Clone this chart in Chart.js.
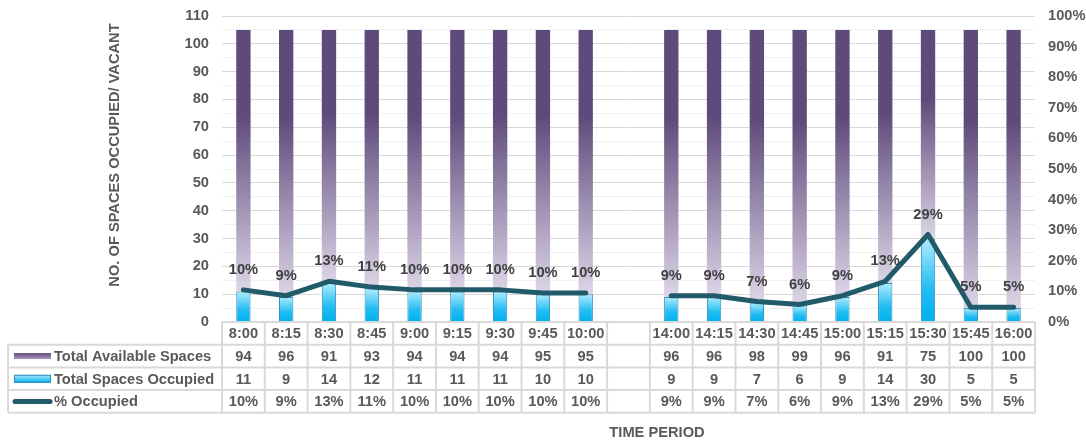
<!DOCTYPE html>
<html>
<head>
<meta charset="utf-8">
<script src="https://cdn.jsdelivr.net/npm/chart.js@4/dist/chart.umd.min.js"></script>
<style>
  body { margin: 0; background: #fff; }
  canvas { display: block; }
</style>
</head>
<body>
<canvas id="parking" width="1086" height="441"></canvas>
<script>
// time slots, '' is the empty column between morning and afternoon
const timeSlots = ['8:00', '8:15', '8:30', '8:45', '9:00', '9:15', '9:30', '9:45', '10:00', '',
    '14:00', '14:15', '14:30', '14:45', '15:00', '15:15', '15:30', '15:45', '16:00'];
const availableSpaces = [94, 96, 91, 93, 94, 94, 94, 95, 95, null, 96, 96, 98, 99, 96, 91, 75, 100, 100];
const occupiedSpaces = [11, 9, 14, 12, 11, 11, 11, 10, 10, null, 9, 9, 7, 6, 9, 14, 30, 5, 5];
// line position and the rounded labels printed on it
const occupiedPct = [10.5, 8.6, 13.3, 11.4, 10.5, 10.5, 10.5, 9.5, 9.5, null, 8.6, 8.6, 6.7, 5.7, 8.6, 13.3, 28.6, 4.8, 4.8];
const occupiedPctLabels = ['10%', '9%', '13%', '11%', '10%', '10%', '10%', '10%', '10%', '',
    '9%', '9%', '7%', '6%', '9%', '13%', '29%', '5%', '5%'];

const FONT = 'bold 14.67px "Liberation Sans", Arial, sans-serif';
const TEXT = '#595959';
const GRID = '#D9D9D9';
const PURPLE_DARK = '#5F4B7B';
const PURPLE_LIGHT = '#DDD5E7';
const BLUE_LIGHT = '#B0ECFF';
const BLUE = '#00B0F0';
const TEAL = '#215A69';

function purpleFill(c) {
    const { chart, dataIndex } = c;
    const y = chart.scales.y;
    if (c.type !== 'data' || !chart.chartArea || !y || occupiedSpaces[dataIndex] == null) return PURPLE_DARK;
    const top = y.getPixelForValue(occupiedSpaces[dataIndex] + availableSpaces[dataIndex]);
    const bottom = y.getPixelForValue(occupiedSpaces[dataIndex]);
    const g = chart.ctx.createLinearGradient(0, top, 0, bottom);
    g.addColorStop(0, PURPLE_DARK);
    g.addColorStop(0.33, PURPLE_DARK);
    g.addColorStop(1, PURPLE_LIGHT);
    return g;
}

function blueFill(c) {
    const { chart, dataIndex } = c;
    const y = chart.scales.y;
    if (c.type !== 'data' || !chart.chartArea || !y || occupiedSpaces[dataIndex] == null) return BLUE;
    const top = y.getPixelForValue(occupiedSpaces[dataIndex]);
    const bottom = y.getPixelForValue(0);
    const g = chart.ctx.createLinearGradient(0, top, 0, bottom);
    g.addColorStop(0, BLUE_LIGHT);
    g.addColorStop(0.6, '#22BCF2');
    g.addColorStop(1, BLUE);
    return g;
}

// percentage labels above the line
const pointLabels = {
    id: 'pointLabels',
    afterDatasetsDraw(chart) {
        const meta = chart.getDatasetMeta(2);
        const ctx = chart.ctx;
        ctx.save();
        ctx.font = FONT;
        ctx.fillStyle = '#404040';
        ctx.textAlign = 'center';
        ctx.textBaseline = 'middle';
        meta.data.forEach((pt, i) => {
            if (occupiedPct[i] == null) return;
            ctx.fillText(occupiedPctLabels[i], pt.x, pt.y - 20);
        });
        ctx.restore();
    },
};

// data table under the plot + axis titles
const dataTable = {
    id: 'dataTable',
    afterDraw(chart) {
        const { ctx, chartArea, scales: { x } } = chart;
        const n = timeSlots.length;
        const colW = (x.right - x.left) / n;
        const rowH = 22.7;
        const top = chartArea.bottom;
        const legendLeft = 8;
        const rows = [top, top + rowH, top + rowH * 2, top + rowH * 3, top + rowH * 4];

        ctx.save();
        ctx.strokeStyle = GRID;
        ctx.lineWidth = 2;
        ctx.beginPath();
        ctx.moveTo(x.left, rows[0]);
        ctx.lineTo(x.right, rows[0]);
        for (let r = 1; r < rows.length; r++) {
            ctx.moveTo(legendLeft, rows[r]);
            ctx.lineTo(x.right, rows[r]);
        }
        ctx.moveTo(legendLeft, rows[1]);
        ctx.lineTo(legendLeft, rows[4]);
        for (let i = 0; i <= n; i++) {
            const cx = x.left + colW * i;
            ctx.moveTo(cx, rows[0]);
            ctx.lineTo(cx, rows[4]);
        }
        ctx.stroke();

        ctx.font = FONT;
        ctx.fillStyle = TEXT;
        ctx.textAlign = 'center';
        ctx.textBaseline = 'middle';
        const rowValues = [
            timeSlots,
            availableSpaces.map((v) => v == null ? '' : String(v)),
            occupiedSpaces.map((v) => v == null ? '' : String(v)),
            occupiedPctLabels,
        ];
        rowValues.forEach((vals, r) => {
            const cy = rows[r] + rowH / 2 + 1;
            vals.forEach((v, i) => ctx.fillText(v, x.getPixelForValue(i), cy));
        });

        // legend column
        const names = ['Total Available Spaces', 'Total Spaces Occupied', '% Occupied'];
        ctx.textAlign = 'left';
        names.forEach((name, r) => ctx.fillText(name, 54, rows[r + 1] + rowH / 2 + 1));

        let cy = rows[1] + rowH / 2;
        let g = ctx.createLinearGradient(0, cy - 3, 0, cy + 3);
        g.addColorStop(0, PURPLE_DARK);
        g.addColorStop(1, '#A898BE');
        ctx.fillStyle = g;
        ctx.fillRect(14, cy - 3, 37, 6);

        cy = rows[2] + rowH / 2;
        g = ctx.createLinearGradient(0, cy - 4, 0, cy + 4);
        g.addColorStop(0, BLUE_LIGHT);
        g.addColorStop(1, BLUE);
        ctx.fillStyle = g;
        ctx.fillRect(14, cy - 4, 37, 8);
        ctx.strokeStyle = '#2F8FB5';
        ctx.lineWidth = 1;
        ctx.strokeRect(14.5, cy - 3.5, 36, 7);

        cy = rows[3] + rowH / 2;
        ctx.strokeStyle = TEAL;
        ctx.lineWidth = 5;
        ctx.lineCap = 'round';
        ctx.beginPath();
        ctx.moveTo(15, cy);
        ctx.lineTo(50, cy);
        ctx.stroke();

        // axis titles
        ctx.fillStyle = TEXT;
        ctx.textAlign = 'center';
        ctx.fillText('TIME PERIOD', 657, 433);
        ctx.translate(115, 155);
        ctx.rotate(-Math.PI / 2);
        ctx.fillText('NO. OF SPACES OCCUPIED/ VACANT', 0, 0);
        ctx.restore();
    },
};

const tickFont = { family: '"Liberation Sans", Arial, sans-serif', size: 14.67, weight: 'bold' };

new Chart(document.getElementById('parking').getContext('2d'), {
    type: 'bar',
    plugins: [pointLabels, dataTable],
    data: {
        labels: timeSlots,
        datasets: [
            {
                label: 'Total Spaces Occupied',
                data: occupiedSpaces,
                backgroundColor: blueFill,
                borderColor: '#2F8FB5',
                borderWidth: 1,
                borderSkipped: 'bottom',
                categoryPercentage: 1,
                barPercentage: 0.335,
                order: 1,
            },
            {
                label: 'Total Available Spaces',
                data: availableSpaces,
                backgroundColor: purpleFill,
                borderWidth: 0,
                categoryPercentage: 1,
                barPercentage: 0.335,
                order: 1,
            },
            {
                type: 'line',
                label: '% Occupied',
                data: occupiedPct,
                yAxisID: 'y1',
                borderColor: TEAL,
                borderWidth: 5,
                borderCapStyle: 'round',
                borderJoinStyle: 'round',
                pointRadius: 0,
                tension: 0,
                spanGaps: false,
                order: 0,
            },
        ],
    },
    options: {
        responsive: false,
        animation: false,
        layout: { padding: { top: 16, bottom: 119, left: 0, right: 0 } },
        plugins: {
            legend: { display: false },
            tooltip: { enabled: false },
        },
        scales: {
            x: {
                stacked: true,
                display: false,
            },
            y: {
                stacked: true,
                min: 0,
                max: 110,
                afterFit: (s) => { s.width = 222; s.paddingTop = 0; s.paddingBottom = 0; },
                border: { display: false },
                grid: {
                    drawTicks: false,
                    lineWidth: 1,
                    color: (c) => (c.tick && c.tick.value % 10 === 0) ? GRID : '#F0F0F0',
                },
                ticks: {
                    stepSize: 5,
                    autoSkip: false,
                    padding: 13,
                    color: TEXT,
                    font: tickFont,
                    callback: (v) => v % 10 === 0 ? v : '',
                },
            },
            y1: {
                position: 'right',
                min: 0,
                max: 100,
                afterFit: (s) => { s.width = 51; s.paddingTop = 0; s.paddingBottom = 0; },
                border: { display: false },
                grid: { display: false, drawTicks: false },
                ticks: {
                    stepSize: 10,
                    padding: 13,
                    color: TEXT,
                    font: tickFont,
                    callback: (v) => v + '%',
                },
            },
        },
    },
});
</script>
</body>
</html>
